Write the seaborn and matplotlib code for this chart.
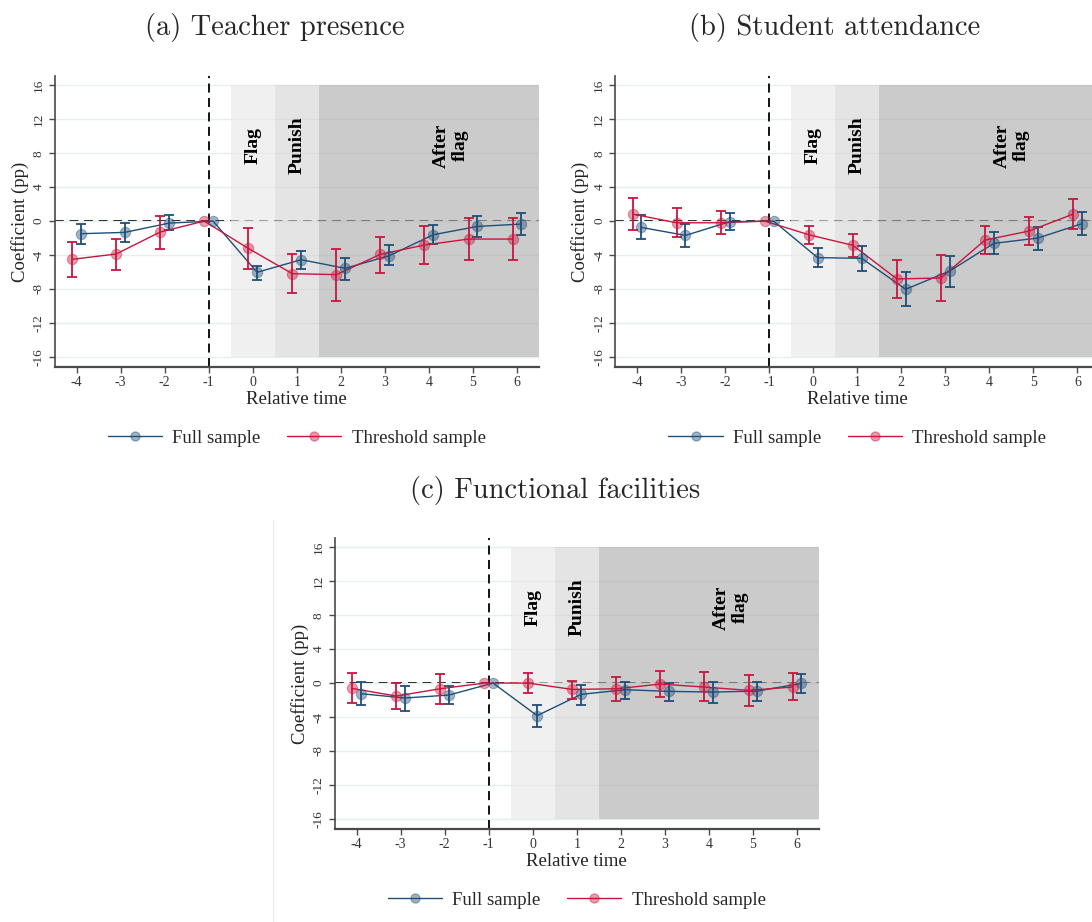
import numpy as np
import pandas as pd
import matplotlib
matplotlib.use("Agg")
import matplotlib.pyplot as plt
import seaborn as sns
from matplotlib.lines import Line2D

# ---------------- data ----------------
rel_time = [-4, -3, -2, -1, 0, 1, 2, 3, 4, 5, 6]
x_tick_labels = ["-4", "-3", "-2", "-1", "0", "1", "2", "3", "4", "5", "6"]
y_ticks = [-16, -12, -8, -4, 0, 4, 8, 12, 16]
y_tick_labels = ["-16", "-12", "-8", "-4", "0", "4", "8", "12", "16"]

panel_titles = ["(a) Teacher presence", "(b) Student attendance", "(c) Functional facilities"]
series_names = ["Full sample", "Threshold sample"]

phase_labels = ["Flag", "Punish", "After\nflag"]
phase_start = [-0.5, 0.5, 1.5]
phase_end = [0.5, 1.5, 6.5]
phase_label_x = [0, 1, 4.5]

nan = np.nan
# Panel (a) Teacher presence
a_full_coef = [-1.49, -1.33, -0.24, 0.0, -6.04, -4.55, -5.57, -4.08, -1.61, -0.63, -0.35]
a_full_hi   = [-0.35, -0.24, 0.67, nan, -5.33, -3.49, -4.31, -2.86, -0.51, 0.59, 0.98]
a_full_lo   = [-2.70, -2.43, -1.10, nan, -6.90, -5.65, -6.90, -5.22, -2.70, -1.84, -1.65]
a_thr_coef  = [-4.51, -3.88, -1.29, 0.0, -3.22, -6.20, -6.31, -3.92, -2.82, -2.12, -2.12]
a_thr_hi    = [-2.51, -2.08, 0.59, nan, -0.86, -3.88, -3.25, -1.88, -0.59, 0.39, 0.39]
a_thr_lo    = [-6.59, -5.76, -3.29, nan, -5.61, -8.51, -9.37, -6.08, -5.02, -4.63, -4.59]

# Panel (b) Student attendance
b_full_coef = [-0.75, -1.69, -0.08, 0.0, -4.31, -4.39, -8.04, -5.88, -2.63, -2.00, -0.31]
b_full_hi   = [0.67, -0.35, 0.98, nan, -3.22, -2.90, -6.00, -4.16, -1.33, -0.71, 1.10]
b_full_lo   = [-2.16, -3.02, -1.10, nan, -5.45, -5.88, -10.04, -7.73, -3.92, -3.37, -1.69]
b_thr_coef  = [0.82, -0.20, -0.20, 0.0, -1.61, -2.86, -6.82, -6.71, -2.24, -1.18, 0.82]
b_thr_hi    = [2.71, 1.53, 1.22, nan, -0.63, -1.53, -4.55, -3.96, -0.63, 0.43, 2.59]
b_thr_lo    = [-1.02, -1.92, -1.57, nan, -2.67, -4.24, -9.10, -9.45, -3.88, -2.78, -0.94]

# Panel (c) Functional facilities
c_full_coef = [-1.25, -1.76, -1.41, 0.0, -3.84, -1.33, -0.78, -0.98, -1.06, -0.94, -0.04]
c_full_hi   = [0.12, -0.31, -0.31, nan, -2.55, -0.20, 0.12, 0.04, 0.12, 0.16, 1.02]
c_full_lo   = [-2.63, -3.25, -2.51, nan, -5.22, -2.55, -1.88, -2.12, -2.35, -2.12, -1.18]
c_thr_coef  = [-0.63, -1.53, -0.67, 0.0, 0.00, -0.75, -0.67, -0.12, -0.47, -0.86, -0.47]
c_thr_hi    = [1.18, 0.00, 1.06, nan, 1.18, 0.27, 0.75, 1.37, 1.25, 0.98, 1.22]
c_thr_lo    = [-2.35, -3.10, -2.43, nan, -1.18, -1.84, -2.12, -1.65, -2.12, -2.71, -1.96]

panels = [
    (a_full_coef, a_full_lo, a_full_hi, a_thr_coef, a_thr_lo, a_thr_hi),
    (b_full_coef, b_full_lo, b_full_hi, b_thr_coef, b_thr_lo, b_thr_hi),
    (c_full_coef, c_full_lo, c_full_hi, c_thr_coef, c_thr_lo, c_thr_hi),
]

# ---------------- style ----------------
sns.set_theme(style="white")
plt.rcParams["font.family"] = ["Liberation Serif", "DejaVu Serif"]
plt.rcParams["axes.unicode_minus"] = False

BLUE = "#1f4e79"
RED = "#c8163f"
colors = [BLUE, RED]
offsets = [0.1, -0.1]
phase_colors = ["#e6e6e6", "#d2d2d2", "#a9a9a9"]
SPINE = "#4a4a4a"
GRID = "#e6eeee"

W, H = 1092, 922
fig = plt.figure(figsize=(W / 100, H / 100), dpi=100)

ax_w = 484.5 / W
ax_h = 291 / H
positions = [
    [54.5 / W, (H - 367) / H, ax_w, ax_h],
    [615 / W, (H - 367) / H, ax_w, ax_h],
    [334.5 / W, (H - 829) / H, ax_w, ax_h],
]
title_pos = [(275 / W, 1 - 27 / H), (835 / W, 1 - 27 / H), (555 / W, 1 - 490 / H)]

for p, (vals, pos) in enumerate(zip(panels, positions)):
    ax = fig.add_axes(pos)
    ax.set_xlim(-4.5, 6.5)
    ax.set_ylim(-17.2, 17.1)
    ax.set_axisbelow(True)
    ax.yaxis.grid(True, color=GRID, lw=1.0, zorder=0)
    ax.xaxis.grid(False)

    # zero line (under the shaded phases)
    ax.axhline(0, color="black", lw=1.4, dashes=(4.5, 3), zorder=0.5)

    # shaded phases
    ax.bar(x=phase_start, height=[32] * 3, bottom=-16,
           width=[e - s for s, e in zip(phase_start, phase_end)],
           align="edge", color=phase_colors, alpha=0.6, linewidth=0, zorder=1)
    for lab, lx in zip(phase_labels, phase_label_x):
        ax.text(lx, 8.9, lab, rotation=90, ha="center", va="center",
                fontsize=14, fontweight="bold", multialignment="center",
                linespacing=1.15, color="black", zorder=5)

    # event line
    ax.axvline(-1, color="black", lw=1.3, dashes=(5, 3), zorder=2)

    for k in range(2):
        coef = np.array(vals[3 * k], dtype=float)
        lo = np.array(vals[3 * k + 1], dtype=float)
        hi = np.array(vals[3 * k + 2], dtype=float)
        xs = np.array(rel_time, dtype=float) + offsets[k]
        c = colors[k]
        df = pd.DataFrame({"x": xs, "y": coef})
        sns.lineplot(data=df, x="x", y="y", color=c, lw=1.0, ax=ax,
                     estimator=None, sort=False, legend=False, zorder=3)
        ax.errorbar(xs, coef, yerr=[coef - lo, hi - coef], fmt="none",
                    ecolor=c, elinewidth=1.3, capsize=3.5, capthick=1.3, zorder=3)
        sns.scatterplot(data=df, x="x", y="y", color=c, alpha=0.42, s=55,
                        edgecolor=c, linewidth=0.8, ax=ax, legend=False, zorder=4)

    ax.set_xticks(rel_time)
    ax.set_xticklabels(x_tick_labels)
    ax.set_yticks(y_ticks)
    ax.set_yticklabels(y_tick_labels)
    ax.tick_params(axis="x", direction="out", length=4.5, width=1.0, color=SPINE,
                   labelsize=10, labelcolor="#333333", pad=2, bottom=True)
    ax.tick_params(axis="y", direction="out", length=4.5, width=1.0, color=SPINE,
                   labelsize=9.5, labelcolor="#333333", pad=2.5, left=True)
    plt.setp(ax.get_yticklabels(), rotation=90, va="center", ha="right")

    for side in ["top", "right"]:
        ax.spines[side].set_visible(False)
    ax.spines["left"].set_color(SPINE)
    ax.spines["left"].set_linewidth(1.2)
    ax.spines["bottom"].set_color(SPINE)
    ax.spines["bottom"].set_linewidth(1.6)

    ax.set_xlabel("Relative time", fontsize=13.5, color="#222222")
    ax.set_ylabel("Coefficient (pp)", fontsize=13.5, color="#222222")
    ax.xaxis.set_label_coords(0.5, -0.083)
    ax.yaxis.set_label_coords(-0.053, 0.5)

    handles = [Line2D([], [], color=colors[k], lw=1.0, marker="o", markersize=6.5,
                      markerfacecolor=(*matplotlib.colors.to_rgb(colors[k]), 0.42),
                      markeredgecolor=(*matplotlib.colors.to_rgb(colors[k]), 0.42))
               for k in range(2)]
    ax.legend(handles, series_names, loc="center", bbox_to_anchor=(0.5, -0.245),
              ncol=2, frameon=False, fontsize=13.5, handlelength=2.9,
              handletextpad=0.55, columnspacing=1.4)

    fig.text(title_pos[p][0], title_pos[p][1], panel_titles[p], ha="center",
             va="center", fontsize=20.5, family="cmr10")

# faint frame edge left of panel (c)
fig.add_artist(Line2D([273 / W, 273 / W], [0, 402 / H], color="#eeeeee", lw=1.0))

fig.savefig("out.png", dpi=100)
